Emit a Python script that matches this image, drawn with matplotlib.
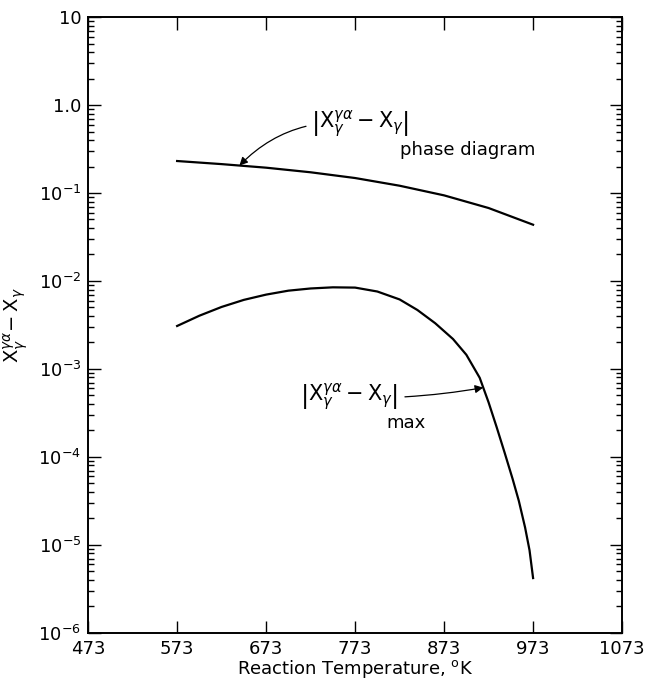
import numpy as np
import matplotlib.pyplot as plt
from matplotlib.ticker import LogLocator, NullFormatter

# reaction temperature (K)
T_phase = [573, 623, 673, 723, 773, 823, 873, 923, 973]
x_phase = [0.231, 0.213, 0.194, 0.172, 0.148, 0.121, 0.094, 0.0675, 0.0436]

T_max = [573, 598, 623, 648, 673, 698, 723, 748, 773, 798, 823, 843, 863,
         883, 898, 913, 923, 932, 941, 950, 957, 964, 969, 973]
x_max = [3.08e-3, 4.03e-3, 5.07e-3, 6.10e-3, 7.00e-3, 7.76e-3, 8.22e-3, 8.47e-3,
         8.41e-3, 7.59e-3, 6.17e-3, 4.68e-3, 3.31e-3, 2.19e-3, 1.45e-3, 7.94e-4,
         4.17e-4, 2.19e-4, 1.12e-4, 5.62e-5, 3.16e-5, 1.58e-5, 8.7e-6, 4.2e-6]

xticks = [473, 573, 673, 773, 873, 973, 1073]
yticks = [1e1, 1e0, 1e-1, 1e-2, 1e-3, 1e-4, 1e-5, 1e-6]
yticklabels = ['10', '1.0', r'$10^{-1}$', r'$10^{-2}$', r'$10^{-3}$',
               r'$10^{-4}$', r'$10^{-5}$', r'$10^{-6}$']

plt.rcParams['mathtext.fontset'] = 'dejavusans'
plt.rcParams['font.size'] = 13

fig = plt.figure(figsize=(6.48, 6.82), dpi=100)
ax = fig.add_axes([0.136, 0.072, 0.824, 0.903])

ax.plot(T_phase, x_phase, color='black', lw=1.6, solid_joinstyle='round')
ax.plot(T_max, x_max, color='black', lw=1.6, solid_joinstyle='round')

ax.set_yscale('log')
ax.set_xlim(473, 1073)
ax.set_ylim(1e-6, 1e1)
ax.set_xticks(xticks)
ax.set_xticklabels([str(t) for t in xticks])
ax.set_yticks(yticks)
ax.set_yticklabels(yticklabels)
ax.yaxis.set_minor_locator(LogLocator(base=10, subs=np.arange(2, 10), numticks=20))
ax.yaxis.set_minor_formatter(NullFormatter())

ax.tick_params(which='both', direction='in', top=True, right=True, width=1)
ax.tick_params(which='major', length=9, pad=5)
ax.tick_params(which='minor', length=4.5)
for s in ax.spines.values():
    s.set_linewidth(1.4)

ax.set_xlabel('Reaction Temperature, $^{\\mathrm{o}}$K', fontsize=13)
ax.xaxis.set_label_coords(0.5, -0.04)
ax.set_ylabel(r'$\mathrm{X}_{\gamma}^{\gamma\alpha}\!-\mathrm{X}_{\gamma}$', fontsize=14)
ax.yaxis.set_label_coords(-0.108, 0.5)

lab = r'$\left|\mathrm{X}_{\gamma}^{\gamma\alpha}-\mathrm{X}_{\gamma}\right|$'

# phase diagram annotation
T_a = 643
y_a = 10 ** np.interp(T_a, T_phase, np.log10(x_phase))
ax.annotate(lab, xy=(T_a, y_a), xytext=(724, 0.61), fontsize=15,
            ha='left', va='center',
            arrowprops=dict(arrowstyle='-|>', color='black', lw=0.9,
                            mutation_scale=12, shrinkA=2, shrinkB=0,
                            connectionstyle='arc3,rad=0.25'))
ax.text(824, 0.31, 'phase diagram', fontsize=13, ha='left', va='center')

# max annotation
T_b = 917
y_b = 10 ** np.interp(T_b, T_max, np.log10(x_max))
ax.annotate(lab, xy=(T_b, y_b), xytext=(711, 4.7e-4), fontsize=15,
            ha='left', va='center',
            arrowprops=dict(arrowstyle='-|>', color='black', lw=0.9,
                            mutation_scale=12, shrinkA=3, shrinkB=0,
                            connectionstyle='arc3,rad=0.05'))
ax.text(808, 2.4e-4, 'max', fontsize=13, ha='left', va='center')

fig.savefig('out.png', dpi=100)
